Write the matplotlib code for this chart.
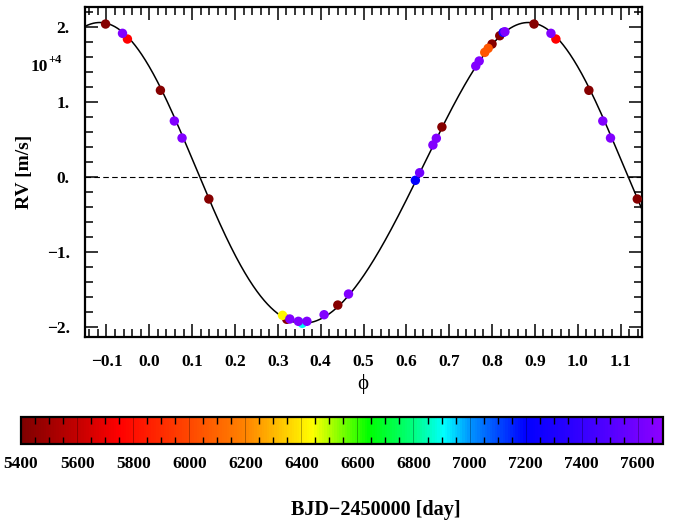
import numpy as np
import matplotlib
matplotlib.use("Agg")
import matplotlib.pyplot as plt
from matplotlib.colors import LinearSegmentedColormap, Normalize
from matplotlib.ticker import MultipleLocator, FixedLocator, FuncFormatter

plt.rcParams['font.family'] = ['Liberation Serif', 'DejaVu Serif']
plt.rcParams['font.weight'] = 'bold'

# ---- data (phase in [0,1), RV in m/s, BJD-2450000) ----
phase = [0.898, 0.9375, 0.949, 0.026, 0.0585, 0.0765, 0.139,
         0.311, 0.321, 0.328, 0.348, 0.357, 0.368, 0.408, 0.440, 0.465,
         0.621, 0.631, 0.662, 0.670, 0.683, 0.762, 0.770, 0.783, 0.791,
         0.800, 0.818, 0.826, 0.830]
rv = [20400, 19160, 18400, 11560, 7470, 5200, -2930,
      -18440, -18970, -18930, -19240, -19510, -19240, -18360, -17070, -15600,
      -440, 570, 4270, 5160, 6670, 14800, 15470, 16620, 17160,
      17730, 18840, 19290, 19370]
bjd = [5420, 7650, 5750, 5420, 7650, 7650, 5420,
       6420, 5420, 7650, 7650, 6900, 7650, 7650, 5420, 7650,
       7200, 7600, 7650, 7650, 5420, 7650, 7650, 6050, 6050,
       5420, 5420, 7300, 7650]

# Keplerian model parameters for the fitted curve
K_amp = 20050.0      # m/s
ecc = 0.048
omega_deg = 55.0
phase_peri = 0.025
gamma = 0.0

xticks = [-0.1, 0.0, 0.1, 0.2, 0.3, 0.4, 0.5, 0.6, 0.7, 0.8, 0.9, 1.0, 1.1]
yticks = [-20000, -10000, 0, 10000, 20000]
ytick_labels = ['\u22122.', '\u22121.', '0.', '1.', '2.']
cbar_ticks = [5400, 5600, 5800, 6000, 6200, 6400, 6600, 6800, 7000, 7200, 7400, 7600]
cbar_range = (5400, 7690)

# colormap anchors (BJD, colour)
cmap_vals = [5400, 5600, 5750, 6000, 6200, 6440, 6640, 6800, 6910, 7000, 7200, 7400, 7690]
cmap_cols = ['#800000', '#c40000', '#ff0000', '#ff4800', '#ff8400', '#ffff00',
             '#00ff00', '#00ff80', '#00ffff', '#0098ff', '#0000ff', '#3400ff', '#8c00ff']

def kepler_rv(ph):
    M = 2 * np.pi * (np.asarray(ph) - phase_peri)
    E = M.copy()
    for _ in range(30):
        E = E - (E - ecc * np.sin(E) - M) / (1 - ecc * np.cos(E))
    nu = 2 * np.arctan2(np.sqrt(1 + ecc) * np.sin(E / 2), np.sqrt(1 - ecc) * np.cos(E / 2))
    w = np.radians(omega_deg)
    return K_amp * (np.cos(nu + w) + ecc * np.cos(w)) + gamma

lo, hi = cbar_range
cmap = LinearSegmentedColormap.from_list(
    'bjd', [((v - lo) / (hi - lo), c) for v, c in zip(cmap_vals, cmap_cols)])
norm = Normalize(vmin=lo, vmax=hi)

W, H = 680, 528
fig = plt.figure(figsize=(W / 100, H / 100), dpi=100)
ax = fig.add_axes([85 / W, 1 - 337 / H, 557 / W, 330 / H])

xmin, xmax = -0.15, 1.15
ax.set_xlim(xmin, xmax)
ax.set_ylim(-21330, 22670)

# model curve
ph_model = np.linspace(xmin, xmax, 1200)
ax.plot(ph_model, kepler_rv(ph_model), color='k', lw=1.1, zorder=2)
ax.axhline(0, color='k', lw=0.8, ls=(0, (5, 3)), zorder=1)

# data points, wrapped copies, sorted by date
order = np.argsort(bjd, kind='stable')
p = np.array(phase)[order]
r = np.array(rv)[order]
b = np.array(bjd)[order]
for shift in (-1, 0, 1):
    sc = ax.scatter(p + shift, r, c=b, cmap=cmap, norm=norm, s=46,
                    edgecolors='none', zorder=3, clip_on=True)

# axes styling
for s in ax.spines.values():
    s.set_linewidth(1.6)
ax.xaxis.set_major_locator(FixedLocator(xticks))
ax.xaxis.set_minor_locator(MultipleLocator(0.02))
ax.yaxis.set_major_locator(FixedLocator(yticks))
ax.yaxis.set_major_formatter(FuncFormatter(lambda v, pos: ytick_labels[yticks.index(int(round(v)))] if int(round(v)) in yticks else ''))
ax.yaxis.set_minor_locator(MultipleLocator(2000))
ax.xaxis.set_major_formatter(FuncFormatter(lambda v, pos: ('%.1f' % v).replace('-', '\u2212')))
ax.tick_params(which='both', direction='in', top=True, right=True, width=1.1)
ax.tick_params(which='major', length=9.5)
ax.tick_params(which='minor', length=5.5)
ax.tick_params(axis='x', which='major', pad=12, labelsize=12.5)
ax.tick_params(axis='y', which='major', pad=11, labelsize=12.5)
for t in ax.get_xticklabels() + ax.get_yticklabels():
    t.set_fontweight('bold')

# labels
fig.text(24 / W, 1 - 172 / H, 'RV [m/s]', rotation=90, ha='center', va='center',
         fontsize=14, fontweight='bold')
fig.text(363 / W, 1 - 384 / H, '\u03d5', ha='center', va='center',
         fontsize=15, fontweight='normal')
fig.text(48 / W, 1 - 71 / H, '10', ha='right', va='baseline', fontsize=12.5, fontweight='bold')
fig.text(48 / W, 1 - 63 / H, '+4', ha='left', va='baseline', fontsize=9, fontweight='bold')

# colourbar
cax = fig.add_axes([21 / W, 1 - 444 / H, 642 / W, 27 / H])
cb = fig.colorbar(sc, cax=cax, orientation='horizontal')
cb.outline.set_linewidth(1.6)
cb.set_ticks(cbar_ticks)
cb.ax.xaxis.set_minor_locator(MultipleLocator(50))
cax.tick_params(which='both', direction='in', top=True, bottom=True, width=1.0, color='k')
cax.tick_params(which='major', length=0, pad=9, labelsize=12.5)
cax.tick_params(which='minor', length=5)
for t in cax.get_xticklabels():
    t.set_fontweight('bold')
for v in cbar_ticks[1:]:
    cax.axvline(v, color='k', lw=0.6, alpha=0.35)
fig.text(376 / W, 1 - 510 / H, 'BJD\u22122450000 [day]', ha='center', va='center',
         fontsize=14.5, fontweight='bold')

fig.savefig('out.png', dpi=100)
